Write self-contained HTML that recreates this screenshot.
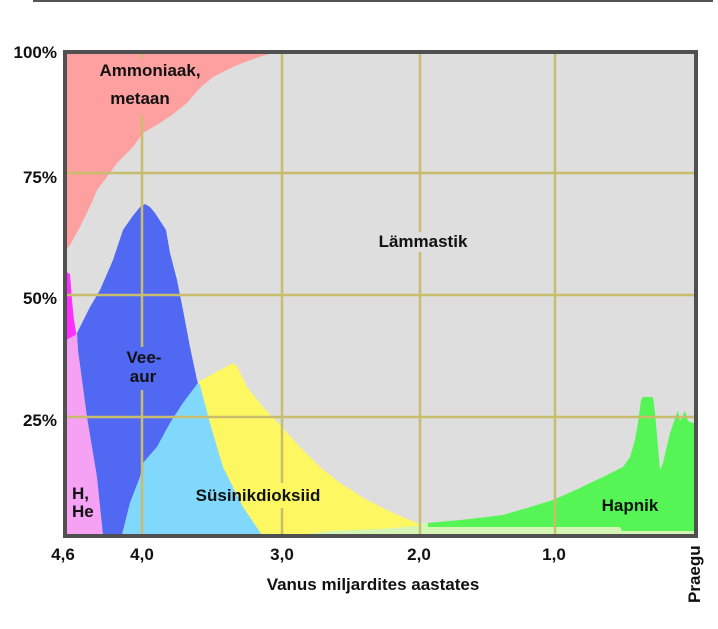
<!DOCTYPE html>
<html><head><meta charset="utf-8"><style>
html,body{margin:0;padding:0;background:#fff;}
svg{display:block;}
text{font-family:"Liberation Sans",Arial,sans-serif;font-weight:bold;font-size:17px;fill:#111;}
</style></head><body>
<svg width="718" height="629" viewBox="0 0 718 629" xmlns="http://www.w3.org/2000/svg">
<rect x="0" y="0" width="718" height="629" fill="#fff"/>
<rect x="33" y="0" width="680" height="2" fill="#555"/>
<!-- plot background -->
<rect x="66" y="53" width="629" height="482" fill="#dedede"/>
<!-- Ammonia/methane -->
<polygon fill="#ffa0a0" points="66,53 274,53 262,56 245,62 233,67 213,77 200,88 187,103 172,115 160,123 143,133 133,147 117,163 110,173 97,190 93,200 80,227 70,245 66,250"/>
<!-- magenta strip -->
<polygon fill="#ff30ff" points="66,272 70,274 72,300 74,320 77,338 70,342 66,342"/>
<!-- H, He -->
<polygon fill="#f5a2f5" points="66,340 77,334 78,350 87,417 97,477 103,535 66,535"/>
<!-- water vapour -->
<polygon fill="#5068f2" points="77,333 90,307 100,290 113,260 123,230 132,217 140,207 145,204 150,207 155,213 166,230 170,253 177,280 183,310 190,347 197,380 198,383 183,403 170,423 157,447 143,463 140,477 130,503 122,535 103,535 97,477 87,417 78,350"/>
<!-- CO2 cyan -->
<polygon fill="#80d8fc" points="198,383 183,403 170,423 157,447 143,463 140,477 130,503 122,535 262,535 243,507 223,467 210,423 200,385"/>
<!-- yellow -->
<polygon fill="#fdf862" points="198,382 233,363 237,366 247,387 263,407 280,425 300,447 320,467 340,483 367,500 393,513 417,523 421,526 421,535 262,535 243,507 223,467 210,423 200,385"/>
<!-- light green strip -->
<polygon fill="#d4f5b4" points="300,535 330,531 380,529 418,526 420,523 428,523 428,527 620,527 622,531 695,531 695,535"/>
<!-- oxygen -->
<polygon fill="#55f555" points="428,523 460,520 487,517 503,515 527,508 553,500 580,488 590,483 603,477 613,472 623,467 630,457 635,440 638,423 641,400 643,397 653,397 655,413 658,447 660,470 663,463 670,433 677,413 678,411 680,421 685,411 688,421 693,423 695,423 695,531 622,531 620,527 428,527"/>
<!-- gridlines -->
<g stroke="#c8bd6c" stroke-width="2.5" fill="none">
<line x1="66" y1="173" x2="695" y2="173"/>
<line x1="66" y1="295" x2="695" y2="295"/>
<line x1="66" y1="417" x2="695" y2="417"/>
<line x1="142" y1="53" x2="142" y2="58"/>
<line x1="142" y1="115" x2="142" y2="347"/>
<line x1="142" y1="390" x2="142" y2="535"/>
<line x1="282" y1="53" x2="282" y2="483"/>
<line x1="282" y1="508" x2="282" y2="535"/>
<line x1="420" y1="53" x2="420" y2="232"/>
<line x1="420" y1="252" x2="420" y2="535"/>
<line x1="555" y1="53" x2="555" y2="535"/>
</g>
<!-- frame -->
<rect x="65" y="52" width="631" height="484" fill="none" stroke="#505050" stroke-width="4"/>
<!-- y labels -->
<text x="57" y="58" text-anchor="end">100%</text>
<text x="57" y="183" text-anchor="end">75%</text>
<text x="57" y="304" text-anchor="end">50%</text>
<text x="57" y="426" text-anchor="end">25%</text>
<!-- x labels -->
<text x="63" y="560" text-anchor="middle">4,6</text>
<text x="142" y="560" text-anchor="middle">4,0</text>
<text x="282" y="560" text-anchor="middle">3,0</text>
<text x="419" y="560" text-anchor="middle">2,0</text>
<text x="554" y="560" text-anchor="middle">1,0</text>
<text x="373" y="590" text-anchor="middle">Vanus miljardites aastates</text>
<text transform="translate(700,603) rotate(-90)">Praegu</text>
<!-- region labels -->
<text x="150" y="76" text-anchor="middle">Ammoniaak,</text>
<text x="140" y="104" text-anchor="middle">metaan</text>
<text x="423" y="247" text-anchor="middle">Lämmastik</text>
<text x="144" y="363" text-anchor="middle">Vee-</text>
<text x="143" y="382" text-anchor="middle">aur</text>
<text x="258" y="501" text-anchor="middle">Süsinikdioksiid</text>
<text x="72" y="499">H,</text>
<text x="72" y="517">He</text>
<text x="630" y="511" text-anchor="middle">Hapnik</text>
</svg>
</body></html>
